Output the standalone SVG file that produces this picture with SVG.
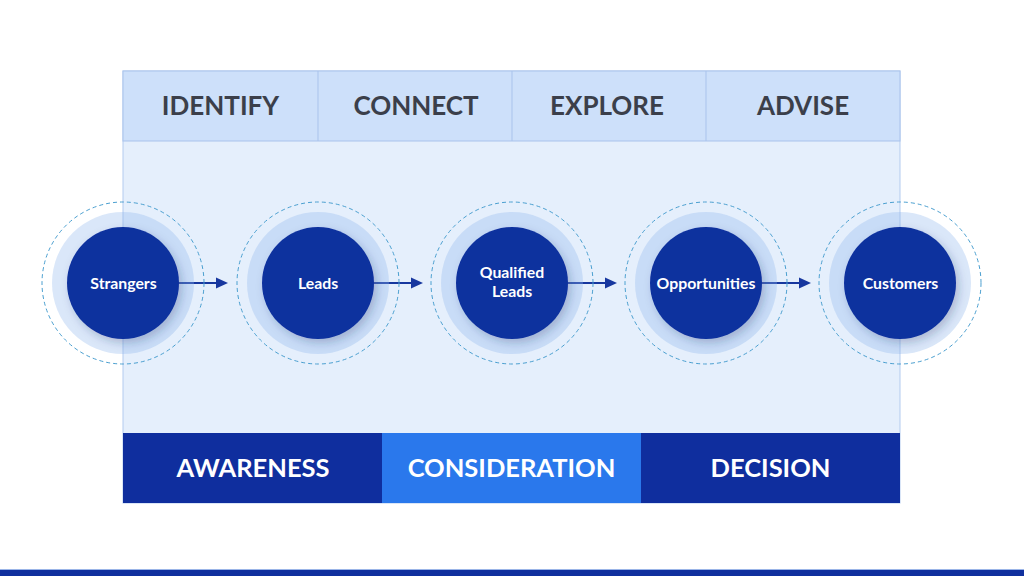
<svg xmlns="http://www.w3.org/2000/svg" width="1024" height="576" viewBox="0 0 1024 576">
<style>
.hdr{font-family:Lato,"Liberation Sans",sans-serif;font-weight:700;font-size:26px;fill:#3b3f4a;text-anchor:middle}
.stage{font-family:Lato,"Liberation Sans",sans-serif;font-weight:700;font-size:25.5px;fill:#ffffff;text-anchor:middle}
.lbl{font-family:Lato,"Liberation Sans",sans-serif;font-weight:700;font-size:15.8px;fill:#ffffff;text-anchor:middle}
.ring{fill:#8fb5ee;fill-opacity:0.33}
.dash{fill:none;stroke:#4a9fd0;stroke-width:1;stroke-dasharray:4 3}
.core{fill:#10309e;filter:url(#sh)}
.conn{stroke:#17379f;stroke-width:2}
.ah{fill:#17379f}
</style>
<defs>
<filter id="sh" x="-30%" y="-30%" width="160%" height="160%">
<feDropShadow dx="3" dy="4" stdDeviation="4" flood-color="#1a2a60" flood-opacity="0.25"/>
</filter>
</defs>
<rect width="1024" height="576" fill="#ffffff"/>
<g id="panel">
<rect x="123" y="71" width="777" height="432" fill="#e5effc" stroke="#b3cbef" stroke-width="1"/>
<rect x="123" y="71" width="777" height="70" fill="#cde0fa" stroke="#a9c3ec" stroke-width="1"/>
<line x1="318" y1="71" x2="318" y2="141" stroke="#a9c3ec"/>
<line x1="512" y1="71" x2="512" y2="141" stroke="#a9c3ec"/>
<line x1="706" y1="71" x2="706" y2="141" stroke="#a9c3ec"/>
</g>
<g id="headers">
<text class="hdr" x="220.5" y="114.5">IDENTIFY</text>
<text class="hdr" x="416" y="114.5">CONNECT</text>
<text class="hdr" x="607" y="114.5">EXPLORE</text>
<text class="hdr" x="803" y="114.5">ADVISE</text>
</g>
<g id="stages">
<rect x="123" y="433" width="259" height="70" fill="#0f2e9e"/>
<rect x="382" y="433" width="259" height="70" fill="#2a78ec"/>
<rect x="641" y="433" width="259" height="70" fill="#0f2e9e"/>
<text class="stage" x="253" y="476.5">AWARENESS</text>
<text class="stage" x="511.5" y="476.5">CONSIDERATION</text>
<text class="stage" x="770.5" y="476.5">DECISION</text>
</g>
<g id="connectors">
<line class="conn" x1="179" y1="283" x2="218" y2="283"/><polygon class="ah" points="216,277.5 228,283 216,288.5"/>
<line class="conn" x1="374" y1="283" x2="413" y2="283"/><polygon class="ah" points="411,277.5 423,283 411,288.5"/>
<line class="conn" x1="568" y1="283" x2="607" y2="283"/><polygon class="ah" points="605,277.5 617,283 605,288.5"/>
<line class="conn" x1="762" y1="283" x2="801" y2="283"/><polygon class="ah" points="799,277.5 811,283 799,288.5"/>
</g>
<g id="strangers">
<circle class="ring" cx="123" cy="283" r="71"/>
<circle class="dash" cx="123" cy="283" r="81"/>
<circle class="core" cx="123" cy="283" r="56"/>
<text class="lbl" x="123.5" y="288.5">Strangers</text>
</g>
<g id="leads">
<circle class="ring" cx="318" cy="283" r="71"/>
<circle class="dash" cx="318" cy="283" r="81"/>
<circle class="core" cx="318" cy="283" r="56"/>
<text class="lbl" x="318" y="288.5">Leads</text>
</g>
<g id="qualified-leads">
<circle class="ring" cx="512" cy="283" r="71"/>
<circle class="dash" cx="512" cy="283" r="81"/>
<circle class="core" cx="512" cy="283" r="56"/>
<text class="lbl" x="512" y="277.5">Qualified</text>
<text class="lbl" x="512" y="296.5">Leads</text>
</g>
<g id="opportunities">
<circle class="ring" cx="706" cy="283" r="71"/>
<circle class="dash" cx="706" cy="283" r="81"/>
<circle class="core" cx="706" cy="283" r="56"/>
<text class="lbl" x="706" y="288.5">Opportunities</text>
</g>
<g id="customers">
<circle class="ring" cx="900" cy="283" r="71"/>
<circle class="dash" cx="900" cy="283" r="81"/>
<circle class="core" cx="900" cy="283" r="56"/>
<text class="lbl" x="900.5" y="288.5">Customers</text>
</g>
<g id="footer">
<rect x="0" y="569" width="1024" height="1" fill="#9bb5e8"/>
<rect x="0" y="570" width="1024" height="6" fill="#10309e"/>
</g>
</svg>
